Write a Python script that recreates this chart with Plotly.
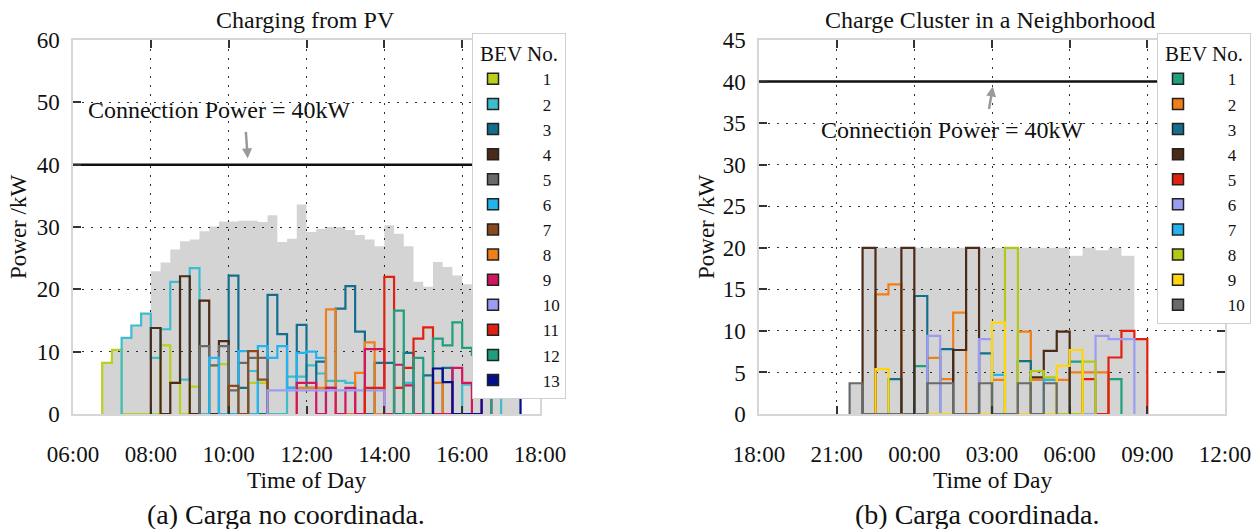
import plotly.graph_objects as go

FONT = "Liberation Serif"
W, H = 1259, 529

# ---------------- (a) Charging from PV : 15-min resolution ----------------
a_slot_h = 0.25
a_xticks = [6, 8, 10, 12, 14, 16, 18]
a_xticklabels = ["06:00", "08:00", "10:00", "12:00", "14:00", "16:00", "18:00"]
a_yticks = [0, 10, 20, 30, 40, 50, 60]

a_pv_start = "06:45"
a_pv_kw = [8.2, 10.3, 12.2, 14.2, 16.1, 22.9, 24.3, 26.4, 27.7, 28.0, 29.3, 30.1,
           30.9, 30.9, 31.0, 31.0, 30.8, 31.9, 27.6, 28.1, 33.6, 29.2, 29.7, 30.0,
           30.0, 29.5, 28.7, 28.0, 26.9, 30.3, 28.9, 26.9, 21.2, 20.4, 24.4, 23.6,
           22.2, 20.8, 19.0, 17.5, 15.5, 13.0, 10.5]

a_bev_colors = ["#bccf1d", "#3dbdcd", "#146f8e", "#4b2a16", "#6a6a6a", "#23b4ef",
                "#8b4a1c", "#f17e16", "#d4145f", "#9b9cf4", "#e3200f", "#1e9f7e",
                "#050f8e"]
a_bev_start = ["06:45", "07:15", "10:00", "08:00", "09:15", "09:30", "10:00",
               "11:45", "11:45", "11:00", "13:30", "14:15", "15:15"]
a_bev01 = [8.2, 10.3, 0, 0, 0, 0, 11.0, 5.0, 0, 4.4, 0, 7.8, 8.0, 0, 0, 5.0, 5.0]
a_bev02 = [12.2, 14.2, 16.1, 9.0, 13.6, 21.2, 5.5, 23.4, 0, 0, 0, 0, 0, 6.9, 0, 0, 0,
           6.0, 6.0, 7.8, 6.5, 5.3, 5.3, 5.0, 0, 0, 0, 0, 0, 5.0, 0, 0, 0, 0, 0,
           4.7, 4.2, 4.2, 4.0]
a_bev03 = [22.2, 4.2, 0, 0, 19.1, 12.8, 4.2, 14.3, 4.2, 8.4, 4.2, 16.9, 20.5, 13.2,
           0, 8.2, 8.2, 0, 9.8, 0, 6.2, 0, 7.4]
a_bev04 = [13.8, 0, 5.0, 22.1, 0, 18.2, 0, 11.7]
a_bev05 = [10.9, 7.8, 10.9, 3.8, 8.2, 9.0, 9.0]
a_bev06 = [9.0, 0, 0, 10.1, 0, 10.9, 9.0, 10.9, 4.2, 9.8, 10.0, 9.0]
a_bev07 = [4.5, 0, 10.1, 5.5]
a_bev08 = [4.2, 4.2, 4.2, 16.8, 0, 0, 6.6, 11.5, 0, 0, 4.2, 0, 0, 0, 5.0]
a_bev09 = [5.0, 5.0, 0, 4.2, 0, 4.2, 0, 10.4, 10.4, 0, 7.9, 4.6, 0, 0, 0, 0, 7.4,
           5.0, 0, 4.0]
a_bev10 = [3.8, 3.8, 3.8, 3.8, 3.8, 3.8, 3.8, 3.8, 3.8, 3.8, 3.8, 3.8]
a_bev11 = [4.2, 4.2, 22.0, 4.2, 7.4, 12.1, 13.9]
a_bev12 = [16.6, 0, 9.0, 0, 12.1, 11.0, 14.7, 10.6, 9.5, 8.0]
a_bev13 = [7.3, 5.1, 0, 0, 0, 6.0, 6.0, 5.0, 4.0]
a_bev_kw = [a_bev01, a_bev02, a_bev03, a_bev04, a_bev05, a_bev06, a_bev07,
            a_bev08, a_bev09, a_bev10, a_bev11, a_bev12, a_bev13]

# ---------------- (b) Charge cluster : 30-min resolution ----------------
b_slot_h = 0.5
b_xticks = [18, 21, 24, 27, 30, 33, 36]
b_xticklabels = ["18:00", "21:00", "00:00", "03:00", "06:00", "09:00", "12:00"]
b_yticks = [0, 5, 10, 15, 20, 25, 30, 35, 40, 45]

b_total_start = "21:30"
b_total_kw = [3.7, 20, 20, 20, 20, 20, 20, 20, 20, 20, 20, 20, 20, 20, 20, 20, 20,
              19.05, 20, 19.7, 20, 19.05, 9.0]

b_bev_colors = ["#1e9f7e", "#f17e16", "#146f8e", "#4b2a16", "#e3200f", "#9b9cf4",
                "#23b4ef", "#b5c912", "#ffd60a", "#6a6a6a"]
b_bev_start = ["00:00", "22:30", "23:00", "22:00", "06:30", "00:30", "03:00",
               "03:30", "22:30", "21:30"]
b_bev01 = [5.75, 0, 0, 0, 0, 0, 0, 0, 0, 0, 0, 0, 6.3, 0, 0, 4.2]
b_bev02 = [14.4, 15.6, 0, 0, 6.75, 4.2, 12.2, 0, 0, 4.1, 0, 9.9, 4.1, 4.1, 4.1,
           5.0, 5.0, 5.0]
b_bev03 = [4.2, 0, 14.2, 0, 7.8, 0, 0, 7.3, 0, 0, 6.35]
b_bev04 = [20, 0, 0, 20, 0, 0, 0, 7.7, 20, 0, 0, 0, 0, 4.4, 7.6, 9.9]
b_bev05 = [4.2, 0, 6.8, 10.0, 9.0]
b_bev06 = [9.4, 0, 0, 0, 9.0, 0, 0, 0, 0, 0, 0, 0, 0, 9.4, 9.0, 9.0]
b_bev07 = [4.7, 0, 0, 0, 4.1]
b_bev08 = [20, 0, 5.15, 4.4, 0, 0, 6.3]
b_bev09 = [5.4, 0, 0, 0, 0, 0, 0, 0, 0, 11.0, 0, 0, 0, 0, 5.8, 7.7]
b_bev10 = [3.7, 0, 0, 0, 0, 0, 3.7, 3.7, 0, 0, 3.7, 0, 0, 3.7, 0, 3.7]
b_bev_kw = [b_bev01, b_bev02, b_bev03, b_bev04, b_bev05, b_bev06, b_bev07,
            b_bev08, b_bev09, b_bev10]

connection_kw = 40
connection_text = "Connection Power = 40kW"


def to_hours(hhmm, night=False):
    h, m = (int(p) for p in hhmm.split(":"))
    t = h + m / 60.0
    if night and t < 18:
        t += 24
    return t


def step_xy(start, vals, step):
    n = len(vals)
    xs = [start] + [start + i * step for i in range(n)] + [start + n * step]
    ys = [0] + list(vals) + [0]
    return xs, ys


fig = go.Figure()
PAD = "\u00a0" * 7

# ---- panel (a)
x, y = step_xy(to_hours(a_pv_start), a_pv_kw, a_slot_h)
fig.add_trace(go.Scatter(x=x, y=y, mode="lines", line=dict(shape="hv", width=0),
                         fill="tozeroy", fillcolor="rgba(0,0,0,0.17)",
                         showlegend=False, hoverinfo="skip", xaxis="x", yaxis="y"))
for i, (st, kw) in enumerate(zip(a_bev_start, a_bev_kw)):
    x, y = step_xy(to_hours(st), kw, a_slot_h)
    fig.add_trace(go.Scatter(x=x, y=y, mode="lines",
                             line=dict(shape="hv", width=2.2, color=a_bev_colors[i]),
                             showlegend=False, xaxis="x", yaxis="y"))
fig.add_trace(go.Scatter(x=[a_xticks[0], a_xticks[-1]], y=[connection_kw] * 2,
                         mode="lines", line=dict(color="#111", width=2.5),
                         showlegend=False, xaxis="x", yaxis="y"))
for i, c in enumerate(a_bev_colors):
    fig.add_trace(go.Scatter(x=[None], y=[None], mode="markers", name=PAD + str(i + 1),
                             marker=dict(symbol="square", size=11, color=c,
                                         line=dict(color="#222", width=1.5)),
                             legend="legend", xaxis="x", yaxis="y"))

# ---- panel (b)
x, y = step_xy(to_hours(b_total_start, True), b_total_kw, b_slot_h)
fig.add_trace(go.Scatter(x=x, y=y, mode="lines", line=dict(shape="hv", width=0),
                         fill="tozeroy", fillcolor="rgba(0,0,0,0.17)",
                         showlegend=False, hoverinfo="skip", xaxis="x2", yaxis="y2"))
for i, (st, kw) in enumerate(zip(b_bev_start, b_bev_kw)):
    x, y = step_xy(to_hours(st, True), kw, b_slot_h)
    fig.add_trace(go.Scatter(x=x, y=y, mode="lines",
                             line=dict(shape="hv", width=2.2, color=b_bev_colors[i]),
                             showlegend=False, xaxis="x2", yaxis="y2"))
fig.add_trace(go.Scatter(x=[b_xticks[0], b_xticks[-1]], y=[connection_kw] * 2,
                         mode="lines", line=dict(color="#111", width=2.5),
                         showlegend=False, xaxis="x2", yaxis="y2"))
for i, c in enumerate(b_bev_colors):
    fig.add_trace(go.Scatter(x=[None], y=[None], mode="markers", name=PAD + str(i + 1),
                             marker=dict(symbol="square", size=11, color=c,
                                         line=dict(color="#222", width=1.5)),
                             legend="legend2", xaxis="x2", yaxis="y2"))

axis_common = dict(showline=True, linecolor="#d6d6d6", linewidth=1.5, mirror="ticks",
                   ticks="inside", ticklen=8, tickwidth=1.5, tickcolor="#333",
                   showgrid=True, gridcolor="#333", gridwidth=1.3, griddash="2px,7px",
                   zeroline=False, tickfont=dict(family=FONT, size=23, color="#111"))

ydom = [1 - 414 / H, 1 - 40 / H]
fig.update_layout(
    width=W, height=H, margin=dict(l=0, r=0, t=0, b=0, autoexpand=False),
    paper_bgcolor="white", plot_bgcolor="white",
    font=dict(family=FONT, size=22, color="#111"),
    xaxis=dict(domain=[73 / W, 540 / W], range=[6, 18], tickvals=a_xticks,
               ticktext=a_xticklabels, anchor="y", ticklabelstandoff=19, **axis_common),
    yaxis=dict(domain=ydom, range=[0, 60], tickvals=a_yticks, anchor="x",
               ticklabelstandoff=7, **axis_common),
    xaxis2=dict(domain=[759 / W, 1225 / W], range=[18, 36], tickvals=b_xticks,
                ticktext=b_xticklabels, anchor="y2", ticklabelstandoff=19, **axis_common),
    yaxis2=dict(domain=ydom, range=[0, 45], tickvals=b_yticks, anchor="x2",
                ticklabelstandoff=7, **axis_common),
    legend=dict(x=472 / W, xanchor="left", y=1 - 33 / H, yanchor="top",
                bgcolor="white", bordercolor="#d0d0d0", borderwidth=1,
                font=dict(family=FONT, size=17, color="#111"), tracegroupgap=0,
                title=dict(text="BEV No.", side="top center",
                           font=dict(family=FONT, size=21))),
    legend2=dict(x=1157 / W, xanchor="left", y=1 - 33 / H, yanchor="top",
                 bgcolor="white", bordercolor="#d0d0d0", borderwidth=1,
                 font=dict(family=FONT, size=17, color="#111"), tracegroupgap=0,
                 title=dict(text="BEV No.", side="top center",
                            font=dict(family=FONT, size=21))),
    showlegend=True,
)

ann = []
def paper_text(text, xp, yp, size=22, angle=0):
    ann.append(dict(text=text, x=xp / W, y=1 - yp / H, xref="paper", yref="paper",
                    showarrow=False, xanchor="center", yanchor="middle",
                    textangle=angle, font=dict(family=FONT, size=size, color="#111")))

paper_text("Charging from PV", 305, 20, size=24)
paper_text("Charge Cluster in a Neighborhood", 990, 20, size=24)
paper_text("Power /kW", 18, 227, size=23, angle=-90)
paper_text("Power /kW", 706, 227, size=23, angle=-90)
paper_text("Time of Day", 306, 480, size=23.5)
paper_text("Time of Day", 992, 480, size=23.5)
paper_text("(a) Carga no coordinada.", 286, 514, size=28)
paper_text("(b) Carga coordinada.", 977, 514, size=28)

ann.append(dict(text=connection_text, x=9.77, y=48.7, xref="x", yref="y",
                showarrow=False, font=dict(family=FONT, size=24, color="#111")))
ann.append(dict(text=connection_text, x=25.49, y=34.2, xref="x2", yref="y2",
                showarrow=False, font=dict(family=FONT, size=24, color="#111")))
ann.append(dict(text="", x=10.49, y=41.0, xref="x", yref="y", showarrow=True,
                ax=-2, ay=-28, arrowcolor="#9a9a9a", arrowwidth=2.5, arrowhead=2,
                arrowsize=0.8, standoff=0))
ann.append(dict(text="", x=27.03, y=39.4, xref="x2", yref="y2", showarrow=True,
                ax=-4, ay=24, arrowcolor="#9a9a9a", arrowwidth=2.5, arrowhead=2,
                arrowsize=0.8, standoff=0))
fig.update_layout(annotations=ann)

fig.write_html("out.html", config={"displayModeBar": False},
               post_script="document.body.style.margin='0px';"
                           "document.body.style.overflow='hidden';")
